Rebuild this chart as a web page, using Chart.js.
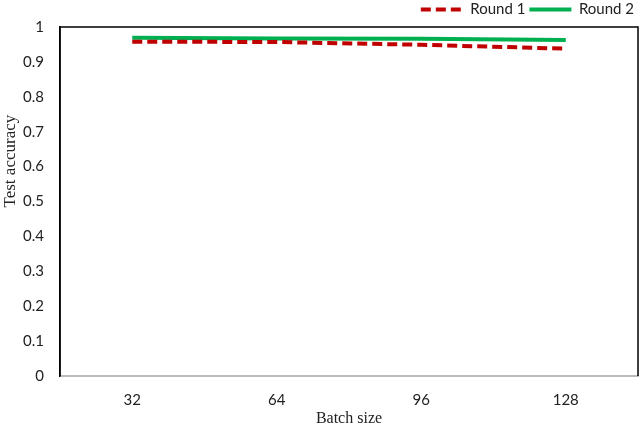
<!DOCTYPE html>
<html>
<head>
<meta charset="utf-8">
<script src="https://cdn.jsdelivr.net/npm/chart.js@4.4.0/dist/chart.umd.min.js"></script>
<style>
  html, body { margin: 0; padding: 0; background: #fff; }
  #wrap { width: 640px; height: 428px; }
</style>
</head>
<body>
<div id="wrap"><canvas id="lineChart"></canvas></div>
<script>
let batchSizes = ['32', '64', '96', '128']
let round1 = [0.958, 0.957, 0.949, 0.938]
let round2 = [0.969, 0.967, 0.966, 0.963]
let yTicks = [0, 0.1, 0.2, 0.3, 0.4, 0.5, 0.6, 0.7, 0.8, 0.9, 1]

// box round the plot area, like the excel frame
const frame = {
    id: 'frame',
    afterDraw(chart) {
        const a = chart.chartArea
        const ctx = chart.ctx
        ctx.save()
        ctx.strokeStyle = '#000'
        ctx.lineWidth = 1.5
        ctx.beginPath()
        ctx.moveTo(a.left, a.bottom)
        ctx.lineTo(a.left, a.top)
        ctx.lineTo(a.right, a.top)
        ctx.lineTo(a.right, a.bottom)
        ctx.stroke()
        ctx.restore()
    }
}

// the y title sits a bit above the middle in the original
let yTitle = '\u00A0'.repeat(19) + 'Test accuracy'

let ctx = document.getElementById('lineChart').getContext('2d')
let myChart = new Chart(ctx, {
    type: 'line',
    data: {
        labels: batchSizes,
        datasets: [{
            label: 'Round 1',
            data: round1,
            borderColor: '#C00000',
            backgroundColor: '#C00000',
            borderWidth: 4,
            borderDash: [10, 5],
            pointRadius: 0,
            tension: 0
        },
        {
            label: 'Round 2',
            data: round2,
            borderColor: '#00B050',
            backgroundColor: '#00B050',
            borderWidth: 4,
            pointRadius: 0,
            tension: 0
        }]
    },
    options: {
        responsive: true,
        maintainAspectRatio: false,
        animation: false,
        layout: { padding: { left: 0, right: 2, top: -2, bottom: 0 } },
        plugins: {
            legend: {
                position: 'top',
                align: 'end',
                labels: {
                    usePointStyle: true,
                    pointStyle: 'line',
                    pointStyleWidth: 42,
                    boxWidth: 42,
                    padding: 4,
                    color: '#222',
                    font: { family: 'Lato', size: 15 },
                    // point style legend loses the dash, put it back
                    generateLabels(chart) {
                        let items = Chart.defaults.plugins.legend.labels.generateLabels(chart)
                        return items.map((it, i) => {
                            let ds = chart.data.datasets[i]
                            it.lineDash = ds.borderDash || []
                            it.lineWidth = ds.borderWidth
                            it.strokeStyle = ds.borderColor
                            return it
                        })
                    }
                }
            },
            tooltip: { enabled: false }
        },
        scales: {
            x: {
                offset: true,
                afterFit(axis) { axis.height = 52 },
                grid: { display: false, drawTicks: false },
                border: { color: '#bbb', width: 2 },
                ticks: {
                    color: '#222',
                    padding: 15,
                    font: { family: 'Lato', size: 15 }
                },
                title: {
                    display: true,
                    text: 'Batch size',
                    color: '#222',
                    padding: { top: 0, bottom: 0 },
                    font: { family: 'Liberation Serif', size: 16 }
                }
            },
            y: {
                min: 0,
                max: 1,
                afterFit(axis) { axis.width = 60 },
                afterBuildTicks(axis) {
                    axis.ticks = yTicks.map(v => ({ value: v }))
                },
                grid: { display: false, drawTicks: false },
                border: { color: '#000', width: 1.5 },
                ticks: {
                    color: '#222',
                    padding: 16,
                    font: { family: 'Lato', size: 15 },
                    callback: v => String(v)
                },
                title: {
                    display: true,
                    text: yTitle,
                    color: '#222',
                    padding: { top: 0, bottom: 2 },
                    font: { family: 'Liberation Serif', size: 17 }
                }
            }
        }
    },
    plugins: [frame]
})
</script>
</body>
</html>
